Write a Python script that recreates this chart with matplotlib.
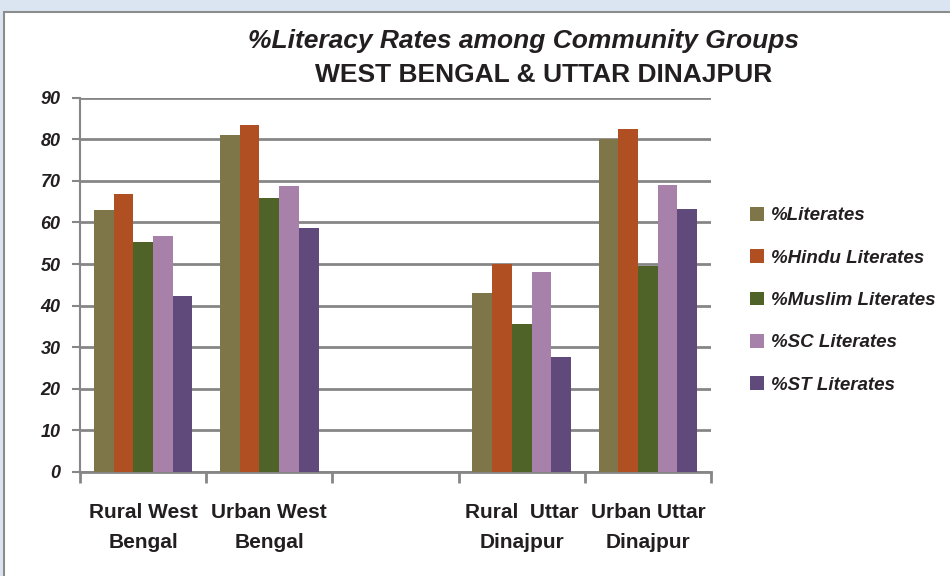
import numpy as np
import matplotlib
matplotlib.use("Agg")
import matplotlib.pyplot as plt
from matplotlib.patches import Rectangle

plt.rcParams["font.family"] = "Liberation Sans"

categories = ["Rural West\nBengal", "Urban West\nBengal",
              "Rural  Uttar\nDinajpur", "Urban Uttar\nDinajpur"]
slots = [0, 1, 3, 4]   # slot 2 is left empty in the original chart
series = ["%Literates", "%Hindu Literates", "%Muslim Literates",
          "%SC Literates", "%ST Literates"]
literates = [63.0, 81.0, 43.0, 80.0]
hindu = [66.8, 83.4, 50.0, 82.5]
muslim = [55.3, 65.9, 35.6, 49.5]
sc = [56.7, 68.8, 48.1, 69.0]
st = [42.3, 58.7, 27.6, 63.2]
colors = ["#7e7548", "#af4f22", "#4f6228", "#a781aa", "#604a7b"]

fig = plt.figure(figsize=(9.5, 5.76), dpi=100)
fig.patch.set_facecolor("#dbe5f1")
fig.add_artist(Rectangle((4 / 950, -0.1), 1.0, 1 - 12 / 576 + 0.1,
                         transform=fig.transFigure, facecolor="white",
                         edgecolor="#8c8c8c", lw=1.5, zorder=0))

ax = fig.add_axes([80 / 950, 1 - 472 / 576, 631 / 950, (472 - 97.7) / 576])
ax.set_facecolor("none")

w = 0.78 / 5
x = np.array(slots, dtype=float)
for i, (vals, c, lab) in enumerate(zip([literates, hindu, muslim, sc, st],
                                       colors, series)):
    ax.bar(x - 0.39 + w * (i + 0.5), vals, w, color=c, label=lab, zorder=3)

ax.set_xlim(-0.5, 4.5)
ax.set_ylim(0, 90)
ax.set_yticks(range(0, 91, 10))
ax.yaxis.grid(True, color="#868686", lw=2)
ax.set_axisbelow(True)
for s in ["top", "right"]:
    ax.spines[s].set_visible(False)
ax.spines["left"].set_color("#868686")
ax.spines["bottom"].set_color("#868686")
ax.spines["left"].set_linewidth(1.5)
ax.spines["bottom"].set_linewidth(2)

ax.set_xticks(slots)
ax.set_xticklabels(categories, fontsize=15, fontweight="bold",
                   linespacing=1.75, color="#231f20")
ax.set_xticks(np.arange(-0.5, 5, 1), minor=True)
ax.tick_params(axis="x", which="major", length=0, pad=22)
ax.tick_params(axis="x", which="minor", length=8, width=2, color="#868686")
ax.tick_params(axis="y", length=6, width=1.5, color="#868686", pad=8)
for t in ax.get_yticklabels():
    t.set_fontsize(13)
    t.set_fontweight("bold")
    t.set_fontstyle("italic")
    t.set_color("#231f20")

fig.text(523 / 950, 1 - 41 / 576, "%Literacy Rates among Community Groups",
         ha="center", va="center", fontsize=19, fontweight="bold",
         fontstyle="italic", color="#231f20")
fig.text(544 / 950, 1 - 75 / 576, "WEST BENGAL & UTTAR DINAJPUR",
         ha="center", va="center", fontsize=19, fontweight="bold",
         color="#231f20")

leg = ax.legend(loc="upper left", bbox_to_anchor=(733 / 950, 1 - 190 / 576),
                bbox_transform=fig.transFigure, frameon=False,
                handlelength=0.75, handleheight=0.75, handletextpad=0.4,
                labelspacing=1.33, prop={"size": 13.5, "weight": "bold",
                                         "style": "italic"})
for t in leg.get_texts():
    t.set_color("#231f20")

fig.savefig("out.png", dpi=100, facecolor=fig.get_facecolor())
